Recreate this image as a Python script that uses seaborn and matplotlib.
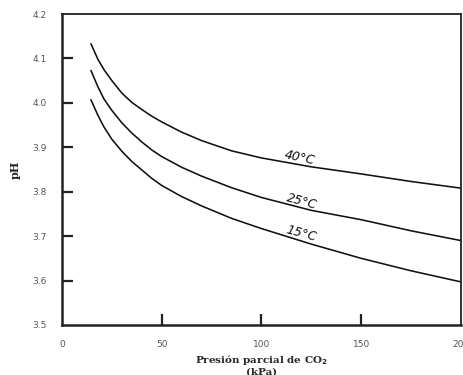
import matplotlib
matplotlib.use("Agg")
import matplotlib.pyplot as plt
import seaborn as sns
import pandas as pd

# Data
pressure = [14.5, 18, 21, 25, 30, 35, 40, 45, 50, 60, 70, 85, 100, 125, 150, 175, 200]
ph_40 = [4.133, 4.098, 4.075, 4.050, 4.022, 4.001, 3.985, 3.970, 3.957, 3.934, 3.915, 3.892, 3.876, 3.856, 3.840, 3.823, 3.808]
ph_25 = [4.073, 4.036, 4.009, 3.983, 3.955, 3.932, 3.912, 3.894, 3.879, 3.855, 3.835, 3.809, 3.787, 3.758, 3.737, 3.712, 3.690]
ph_15 = [4.007, 3.972, 3.946, 3.918, 3.891, 3.868, 3.849, 3.830, 3.814, 3.789, 3.768, 3.740, 3.717, 3.682, 3.650, 3.622, 3.597]
series_labels = ["40°C", "25°C", "15°C"]
x_ticks = [0, 50, 100, 150, 200]
y_ticks = [3.5, 3.6, 3.7, 3.8, 3.9, 4.0, 4.1, 4.2]

rows = []
for lab, vals in zip(series_labels, [ph_40, ph_25, ph_15]):
    for p, v in zip(pressure, vals):
        rows.append({"p": p, "ph": v, "T": lab})
df = pd.DataFrame(rows)

sns.set_style("white")
fig = plt.figure(figsize=(4.64, 3.75), dpi=100)
ax = fig.add_axes([62/464, 1-325/375, 399/464, 311/375])

sns.lineplot(data=df, x="p", y="ph", hue="T", palette=["#111111"]*3,
             legend=False, ax=ax, linewidth=1.15, sort=True)

ax.set_xlim(0, 200)
ax.set_ylim(3.5, 4.2)
ax.set_xticks(x_ticks)
ax.set_yticks(y_ticks)
ax.set_xticklabels([str(t) for t in x_ticks])
ax.set_yticklabels([f"{t:.1f}" for t in y_ticks])
ax.tick_params(axis="both", which="major", bottom=True, left=True, top=False, right=False,
               direction="in", length=8, width=1.6, color="#222222",
               labelsize=6.5, labelcolor="#555555", pad=11)
# ticks at the axis ends coincide with the frame in the reference
xt = ax.xaxis.get_major_ticks()
yt = ax.yaxis.get_major_ticks()
for t in (xt[0], xt[-1]):
    t.tick1line.set_visible(False)
for t in (yt[0], yt[-1]):
    t.tick1line.set_visible(False)

for side in ["left", "bottom"]:
    ax.spines[side].set_linewidth(1.8)
    ax.spines[side].set_color("#222222")
for side in ["top", "right"]:
    ax.spines[side].set_linewidth(1.3)
    ax.spines[side].set_color("#222222")

ax.set_xlabel("Presión parcial de CO$_\\mathbf{2}$\n(kPa)", family="DejaVu Serif",
              fontweight="bold", fontsize=7.5, linespacing=1.05)
ax.xaxis.set_label_coords(0.5, -0.09)
ax.xaxis.label.set_va("top")
ax.set_ylabel("pH", family="DejaVu Serif", fontweight="bold", fontsize=8)
ax.yaxis.set_label_coords(-47/399, 0.5)
ax.yaxis.label.set_va("center")

# curve labels
ax.text(119, 3.877, series_labels[0], rotation=-12, fontsize=9, fontstyle="italic",
        ha="center", va="center", color="#111111")
ax.text(120, 3.777, series_labels[1], rotation=-15, fontsize=9, fontstyle="italic",
        ha="center", va="center", color="#111111")
ax.text(120, 3.705, series_labels[2], rotation=-15, fontsize=9, fontstyle="italic",
        ha="center", va="center", color="#111111")

fig.savefig("out.png", dpi=100)
